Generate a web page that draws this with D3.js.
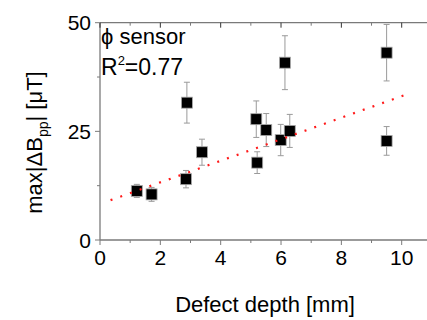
<!DOCTYPE html>
<html>
<head>
<meta charset="utf-8">
<script src="https://cdn.jsdelivr.net/npm/d3@7"></script>
<style>
  body { margin: 0; background: #fff; }
  svg { display: block; font-family: "Liberation Sans", Arial, sans-serif; }
</style>
</head>
<body>
<svg id="chart" width="427" height="320"></svg>
<script>
// measured points: defect depth [mm], max|dBpp| [uT], error
const depth = [1.22, 1.71, 2.85, 2.88, 3.38, 5.18, 5.21, 5.51, 5.99, 6.29, 6.13, 9.5, 9.5];
const field = [11.3, 10.5, 14.0, 31.6, 20.2, 27.8, 17.8, 25.3, 23.0, 25.1, 40.8, 43.1, 22.8];
const errs  = [1.5, 1.6, 2.0, 4.7, 3.0, 4.2, 2.5, 3.8, 3.6, 3.8, 6.2, 6.5, 3.3];
const fitX = [0.35, 10.3];
const fitSlope = 2.48, fitIntercept = 8.3;
const xTicks = [0, 2, 4, 6, 8, 10];
const yTicks = [0, 25, 50];

const svg = d3.select("#chart");
const x = d3.scaleLinear().domain([0, 11]).range([100, 100 + 30.17 * 11]);
const y = d3.scaleLinear().domain([0, 50]).range([240, 22.7]);
const axisCol = "#7a7a7a";

// frame lines
svg.append("line").attr("x1", x(0)).attr("x2", 427).attr("y1", y(0)).attr("y2", y(0))
  .attr("stroke", axisCol).attr("stroke-width", 1.3);
svg.append("line").attr("x1", x(0)).attr("x2", 427).attr("y1", y(50)).attr("y2", y(50))
  .attr("stroke", axisCol).attr("stroke-width", 1.3);
svg.append("line").attr("x1", x(0)).attr("x2", x(0)).attr("y1", y(0)).attr("y2", y(50))
  .attr("stroke", axisCol).attr("stroke-width", 1.3);

// x ticks bottom + top
d3.range(0, 11, 1).forEach(v => {
  const major = v % 2 === 0;
  svg.append("line").attr("x1", x(v)).attr("x2", x(v))
    .attr("y1", y(0)).attr("y2", y(0) + (major ? 5 : 3))
    .attr("stroke", axisCol);
  svg.append("line").attr("x1", x(v)).attr("x2", x(v))
    .attr("y1", y(50)).attr("y2", y(50) + (major ? 5 : 3))
    .attr("stroke", major ? "#333" : axisCol);
});
// y ticks
[0, 12.5, 25, 37.5, 50].forEach(v => {
  const major = v % 25 === 0;
  svg.append("line").attr("x1", x(0) - (major ? 5 : 3)).attr("x2", x(0))
    .attr("y1", y(v)).attr("y2", y(v)).attr("stroke", axisCol);
});

svg.selectAll(".xt").data(xTicks).join("text")
  .attr("x", d => x(d)).attr("y", 265)
  .attr("text-anchor", "middle").attr("font-size", 21).text(d => d);
svg.selectAll(".yt").data(yTicks).join("text")
  .attr("x", 91).attr("y", d => y(d) + 7.5)
  .attr("text-anchor", "end").attr("font-size", 21).text(d => d);

// axis titles
svg.append("text").attr("x", 265).attr("y", 311.5).attr("text-anchor", "middle")
  .attr("font-size", 22).text("Defect depth [mm]");
const yl = svg.append("text").attr("transform", "translate(42,142.5) rotate(-90)")
  .attr("text-anchor", "middle").attr("font-size", 22);
yl.append("tspan").text("max|ΔB");
yl.append("tspan").attr("font-size", 14).attr("dy", 6).text("pp");
yl.append("tspan").attr("dy", -6).text("| [μT]");

// error bars
const pts = depth.map((d, i) => ({x: d, y: field[i], e: errs[i]}));
const eb = svg.append("g").attr("stroke", "#9a9a9a").attr("stroke-width", 1);
pts.forEach(p => {
  eb.append("line").attr("x1", x(p.x)).attr("x2", x(p.x)).attr("y1", y(p.y - p.e)).attr("y2", y(p.y + p.e));
  eb.append("line").attr("x1", x(p.x) - 3).attr("x2", x(p.x) + 3).attr("y1", y(p.y - p.e)).attr("y2", y(p.y - p.e));
  eb.append("line").attr("x1", x(p.x) - 3).attr("x2", x(p.x) + 3).attr("y1", y(p.y + p.e)).attr("y2", y(p.y + p.e));
});

// markers
svg.selectAll(".pt").data(pts).join("rect")
  .attr("x", d => x(d.x) - 5.5).attr("y", d => y(d.y) - 5.5)
  .attr("width", 11).attr("height", 11)
  .attr("fill", "#000").attr("stroke", "#aaa").attr("stroke-width", 0.8);

// fit line (drawn over the markers)
svg.append("line")
  .attr("x1", x(fitX[0])).attr("y1", y(fitIntercept + fitSlope * fitX[0]))
  .attr("x2", x(fitX[1])).attr("y2", y(fitIntercept + fitSlope * fitX[1]))
  .attr("stroke", "#ff1a1a").attr("stroke-width", 2.2)
  .attr("stroke-dasharray", "2,8.3");

// annotation
svg.append("text").attr("x", 101).attr("y", 43.5).attr("font-size", 22).text("ϕ sensor");
const r2 = svg.append("text").attr("x", 101).attr("y", 75).attr("font-size", 23);
r2.append("tspan").text("R");
r2.append("tspan").attr("font-size", 13).attr("dy", -10).text("2");
r2.append("tspan").attr("dy", 10).text("=0.77");
</script>
</body>
</html>
